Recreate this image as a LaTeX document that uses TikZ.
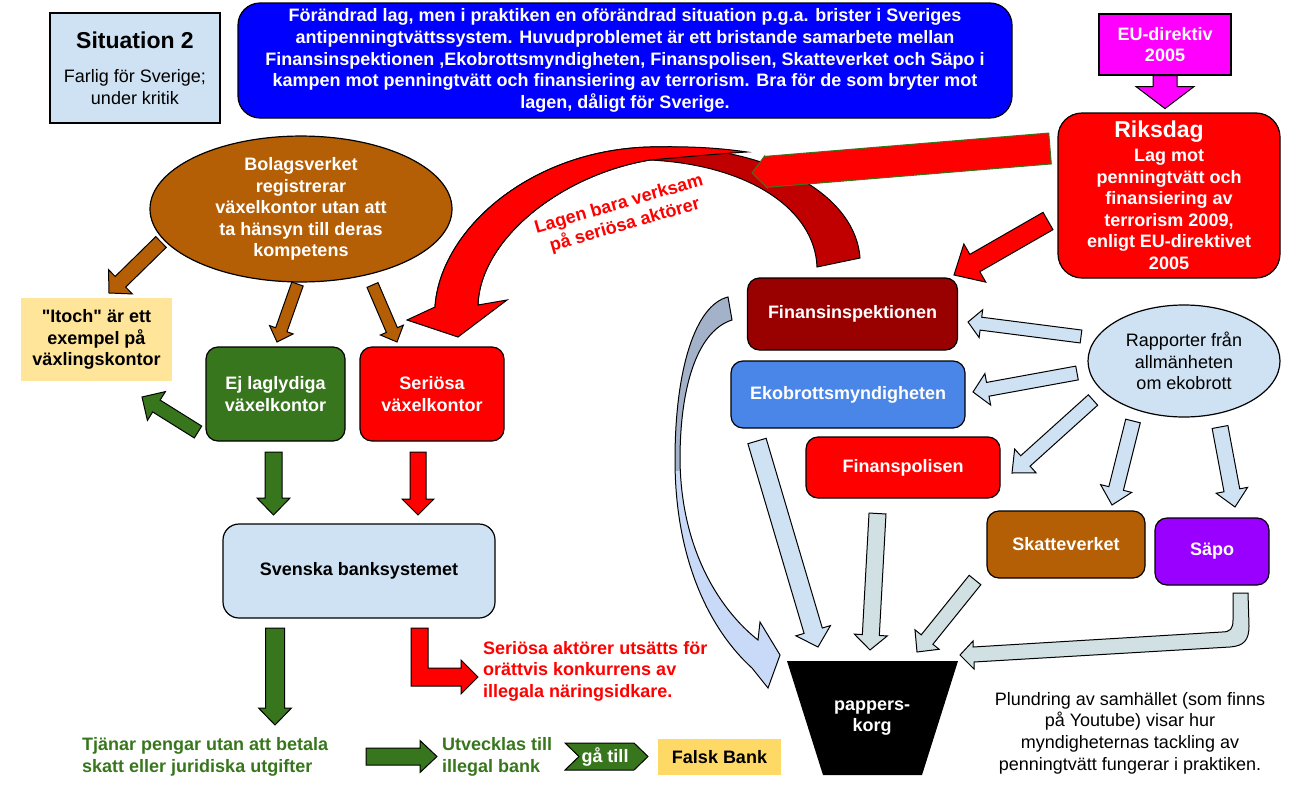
\documentclass[tikz,border=0pt]{standalone}
\usepackage{fontspec}
\setmainfont{Liberation Sans}[Ligatures=TeXOff]
\usetikzlibrary{calc, shapes.geometric}

\definecolor{paleblue}{HTML}{CFE2F3}
\definecolor{lawblue}{HTML}{0000FF}
\definecolor{eumag}{HTML}{FF00FF}
\definecolor{lawred}{HTML}{FF0000}
\definecolor{curvedark}{HTML}{C00000}
\definecolor{fidark}{HTML}{990000}
\definecolor{bolagbrown}{HTML}{B45F06}
\definecolor{dgreen}{HTML}{38761D}
\definecolor{itochyel}{HTML}{FFE599}
\definecolor{falskyel}{HTML}{FFD966}
\definecolor{ekoblue}{HTML}{4A86E8}
\definecolor{sapopurple}{HTML}{9900FF}
\definecolor{korggray}{HTML}{D0E0E3}
\definecolor{curveup}{HTML}{A3B2C8}
\definecolor{curvelow}{HTML}{C9DAF8}

% block arrow: [style]{from}{tip}{shaft half width}{head half width}{head length}
\newcommand{\blockarrow}[6][]{%
  \coordinate (ba-base) at ($(#3)!#6!(#2)$);
  \draw[#1] ($(#2)!#4!90:(#3)$) -- ($(ba-base)!#4!90:(#3)$) -- ($(ba-base)!#5!90:(#3)$) -- (#3)
    -- ($(ba-base)!#5!-90:(#3)$) -- ($(ba-base)!#4!-90:(#3)$) -- ($(#2)!#4!-90:(#3)$) -- cycle;}

\newcommand{\ficurve}{(728,297) .. controls (695,305) and (675,370) .. (675,460) .. controls (675,560) and (710,630) .. (752,668) -- (768,688) -- (780,655) -- (760,622) -- (758,640) .. controls (720,610) and (681,550) .. (680,460) .. controls (680,380) and (700,330) .. (732,320) -- cycle}

\begin{document}
\begin{tikzpicture}[x=1pt, y=-1pt,
  every node/.style={font=\fontsize{18}{21.6}\selectfont, align=center, inner sep=0pt},
  box/.style={draw=black, line width=1.2pt, rounded corners=12pt, text=white,
    font=\bfseries\fontsize{18}{21.6}\selectfont},
  boldtext/.style={font=\bfseries\fontsize{18}{21.6}\selectfont},
  outl/.style={draw=black, line width=1pt, line join=miter}]
\useasboundingbox (0,0) rectangle (1292,787);

\node[box, rounded corners=0pt, fill=paleblue, text=black, font=\fontsize{18}{21.6}\selectfont,
  minimum width=170pt, minimum height=110pt] (sit) at (135,68)
  {{\bfseries\fontsize{23}{27}\selectfont Situation 2}\\[13pt] Farlig för Sverige;\\ under kritik};
\node[box, rounded corners=22pt, fill=lawblue, minimum width=774pt, minimum height=115pt] (law) at (625,60.5)
  {Förändrad lag, men i praktiken en oförändrad situation p.g.a. brister i Sveriges\\
   antipenningtvättssystem. Huvudproblemet är ett bristande samarbete mellan\\
   Finansinspektionen ,Ekobrottsmyndigheten, Finanspolisen, Skatteverket och Säpo i\\
   kampen mot penningtvätt och finansiering av terrorism. Bra för de som bryter mot\\
   lagen, dåligt för Sverige.};
\node[box, rounded corners=0pt, fill=eumag, minimum width=132pt, minimum height=61pt] (eu) at (1165,44.5)
  {EU-direktiv\\ 2005};
\coordinate (eu-tip) at ($(eu.south)+(0,33)$);
\blockarrow[outl, fill=eumag]{eu.south}{eu-tip}{12pt}{29pt}{22pt}
\node[box, rounded corners=24pt, fill=lawred, minimum width=222pt, minimum height=165pt] (riks) at (1169,195.5)
  {{\fontsize{23}{27}\selectfont Riksdag\hspace*{20pt}}\\[2pt] Lag mot\\ penningtvätt och\\ finansiering av\\
   terrorism 2009,\\ enligt EU-direktivet\\ 2005};

\draw[outl, fill=curvedark] (860,258) .. controls (855,190) and (760,144) .. (650,147)
  .. controls (530,150) and (440,230) .. (435,307) -- (478,305)
  .. controls (480,240) and (560,175) .. (650,160) .. controls (750,165) and (815,210) .. (817,267) -- cycle;
\draw[outl, fill=lawred] (435,307) .. controls (440,230) and (530,150) .. (650,147)
  .. controls (690,146) and (720,148) .. (747,152) .. controls (715,154) and (685,157) .. (650,160)
  .. controls (560,175) and (480,240) .. (478,305) -- (507,300) -- (458,337) -- (407,320) -- cycle;
\node[boldtext, text=lawred, rotate=16] (lagen) at (622,215) {Lagen bara verksam\\ på seriösa aktörer};

\coordinate (rk-a) at (1050,148.5);
\coordinate (rk-b) at (752,173);
\blockarrow[draw=dgreen, line width=1pt, fill=lawred]{rk-a}{rk-b}{15.5pt}{16pt}{14pt}
\coordinate (rf-a) at (1048,221);
\coordinate (rf-b) at (954,275);
\blockarrow[outl, fill=lawred]{rf-a}{rf-b}{10pt}{22pt}{24pt}

\node[ellipse, draw=black, line width=1.2pt, fill=bolagbrown, text=white, boldtext,
  minimum width=302pt, minimum height=140pt] (bolag) at (301,209)
  {Bolagsverket\\ registrerar\\ växelkontor utan att\\ ta hänsyn till deras\\ kompetens};
\node[fill=itochyel, boldtext, minimum width=151pt, minimum height=83pt] (itoch) at (96.5,339.5)
  {"Itoch" är ett\\ exempel på\\ växlingskontor};
\node[box, fill=dgreen, minimum width=139pt, minimum height=94pt] (ej) at (275.5,394) {Ej laglydiga\\ växelkontor};
\node[box, fill=lawred, minimum width=144pt, minimum height=94pt] (seri) at (432,394) {Seriösa\\ växelkontor};
\node[box, rounded corners=16pt, fill=paleblue, text=black, minimum width=272pt, minimum height=94pt] (bank)
  at (359,571) {Svenska banksystemet};

\coordinate (b1-a) at (161,242);
\coordinate (b1-b) at (109,293);
\coordinate (b2-a) at (297.5,284);
\coordinate (b2-b) at (277,342);
\coordinate (b3-a) at (372.5,285);
\coordinate (b3-b) at (397,342);
\blockarrow[outl, fill=bolagbrown]{b1-a}{b1-b}{7.5pt}{17pt}{16pt}
\blockarrow[outl, fill=bolagbrown]{b2-a}{b2-b}{6pt}{12.5pt}{13pt}
\blockarrow[outl, fill=bolagbrown]{b3-a}{b3-b}{6pt}{12.5pt}{13pt}

\coordinate (g1-a) at (198,432);
\coordinate (g1-b) at (142,397);
\coordinate (g2-a) at (273.5,452);
\coordinate (g2-b) at (273.5,515);
\coordinate (g3-a) at (275,628);
\coordinate (g3-b) at (275,725);
\coordinate (g4-a) at (366,756.5);
\coordinate (g4-b) at (437,756.5);
\coordinate (r1-a) at (418,452);
\coordinate (r1-b) at (418,515);
\blockarrow[outl, fill=dgreen]{g1-a}{g1-b}{7pt}{17pt}{17pt}
\blockarrow[outl, fill=dgreen]{g2-a}{g2-b}{8.5pt}{16.5pt}{17pt}
\blockarrow[outl, fill=dgreen]{g3-a}{g3-b}{9.5pt}{16.5pt}{17pt}
\blockarrow[outl, fill=dgreen]{g4-a}{g4-b}{8.5pt}{16pt}{17pt}
\blockarrow[outl, fill=lawred]{r1-a}{r1-b}{8pt}{16pt}{16pt}
\draw[outl, fill=lawred] (411,628) -- (411,686) -- (461,686) -- (461,694) -- (478,677) -- (461,660)
  -- (461,668) -- (428,668) -- (428,628) -- cycle;

\node[boldtext, text=lawred, anchor=west, align=left] (orattvis) at (483,671)
  {Seriösa aktörer utsätts för\\ orättvis konkurrens av\\ illegala näringsidkare.};
\node[boldtext, text=dgreen, anchor=west, align=left] (tjanar) at (82,757)
  {Tjänar pengar utan att betala\\ skatt eller juridiska utgifter};
\node[boldtext, text=dgreen, anchor=west, align=left] (utv) at (442,757) {Utvecklas till\\ illegal bank};
\draw[outl, fill=dgreen] (565,743) -- (634,743) -- (648,756.5) -- (634,770) -- (565,770) -- (579,756.5) -- cycle;
\node[boldtext, text=white] (gatill) at (605,756.5) {gå till};
\node[fill=falskyel, boldtext, minimum width=123pt, minimum height=36pt] (falsk) at (719.5,757) {Falsk Bank};

\fill[curvelow] \ficurve;
\begin{scope}
  \clip (600,280) rectangle (800,470);
  \fill[curveup] \ficurve;
\end{scope}
\draw[outl] \ficurve;

\node[box, fill=fidark, minimum width=210pt, minimum height=72pt] (fi) at (852.5,314) {Finansinspektionen};
\node[box, fill=ekoblue, minimum width=234pt, minimum height=67pt] (eko) at (848,394.5) {Ekobrottsmyndigheten};
\node[box, fill=lawred, minimum width=194pt, minimum height=61pt] (fp) at (903,467.5) {Finanspolisen};
\node[box, fill=bolagbrown, minimum width=158pt, minimum height=67pt] (skv) at (1066,544.5) {Skatteverket};
\node[box, fill=sapopurple, minimum width=114pt, minimum height=67pt] (sapo) at (1212,551.5) {Säpo};
\node[ellipse, draw=black, line width=1.2pt, fill=paleblue, minimum width=192pt, minimum height=112pt] (rapp)
  at (1184,361) {Rapporter från\\ allmänheten\\ om ekobrott};

\coordinate (c1-a) at (1081,336.5);
\coordinate (c1-b) at (968,322);
\coordinate (c2-a) at (1077,373);
\coordinate (c2-b) at (973,392);
\coordinate (c3-a) at (1093,400);
\coordinate (c3-b) at (1012,473);
\coordinate (c4-a) at (1133,421);
\coordinate (c4-b) at (1112,505);
\coordinate (c5-a) at (1220,427);
\coordinate (c5-b) at (1235,507);
\blockarrow[outl, fill=paleblue]{c1-a}{c1-b}{6.5pt}{14pt}{13pt}
\blockarrow[outl, fill=paleblue]{c2-a}{c2-b}{7pt}{16pt}{15pt}
\blockarrow[outl, fill=paleblue]{c3-a}{c3-b}{7pt}{16pt}{18pt}
\blockarrow[outl, fill=paleblue]{c4-a}{c4-b}{7.5pt}{16pt}{17pt}
\blockarrow[outl, fill=paleblue]{c5-a}{c5-b}{8pt}{16pt}{17pt}

\coordinate (p1-a) at (757,441);
\coordinate (p1-b) at (818,647);
\coordinate (p2-a) at (877.5,513.5);
\coordinate (p2-b) at (870,650);
\coordinate (p3-a) at (975,580);
\coordinate (p3-b) at (917,652);
\blockarrow[outl, fill=paleblue]{p1-a}{p1-b}{9.5pt}{18pt}{17pt}
\blockarrow[outl, fill=korggray]{p2-a}{p2-b}{8.5pt}{16.5pt}{15pt}
\blockarrow[outl, fill=korggray]{p3-a}{p3-b}{7.5pt}{15.5pt}{16pt}
\draw[outl, fill=korggray] (1233,593) -- (1233,620) .. controls (1233,629) and (1230,632) .. (1222,632)
  -- (973,647) -- (973,641) -- (960,655) -- (974,669) -- (974,662) -- (1230,647)
  .. controls (1244,646) and (1249,640) .. (1249,626) -- (1248,593) -- cycle;

\fill[black] (787,661) -- (958,661) -- (922,775) -- (823,775) -- cycle;
\node[boldtext, text=white] (korg) at (872,718) {pappers-\\ korg};
\node (plund) at (1130,733) {Plundring av samhället (som finns\\ på Youtube) visar hur\\
  myndigheternas tackling av\\ penningtvätt fungerar i praktiken.};
\end{tikzpicture}
\end{document}
